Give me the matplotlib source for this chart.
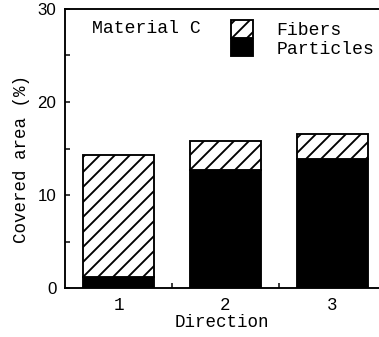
import matplotlib
matplotlib.use("Agg")
import matplotlib.pyplot as plt
from matplotlib.ticker import MultipleLocator, FixedLocator

plt.rcParams['font.family'] = ['Liberation Mono', 'DejaVu Sans Mono']
plt.rcParams['hatch.linewidth'] = 1.5

# 数据
directions = ["1", "2", "3"]
particles = [1.2, 12.7, 13.9]
fibers_total = [14.3, 15.8, 16.6]
fibers = [t - p for t, p in zip(fibers_total, particles)]

fig = plt.figure(figsize=(379 / 90, 337 / 90), dpi=90)
ax = fig.add_axes([65 / 379, 1 - 288 / 337, 1 - 65 / 379, (288 - 9) / 337])

x = range(1, len(directions) + 1)
ax.bar(x, particles, width=0.67, color="black", edgecolor="black", linewidth=1.5, label="Particles")
ax.bar(x, fibers, width=0.67, bottom=particles, color="white", edgecolor="black",
       hatch="//", linewidth=1.5, label="Fibers")

ax.set_xlim(0.5, 3.435)
ax.set_ylim(0, 30)
ax.set_xticks(list(x))
ax.set_xticklabels(directions, fontsize=14)
ax.xaxis.set_minor_locator(FixedLocator([1.5, 2.5]))
ax.yaxis.set_major_locator(MultipleLocator(10))
ax.yaxis.set_minor_locator(MultipleLocator(5))
ax.tick_params(axis="x", which="major", length=0, pad=7)
ax.tick_params(axis="x", which="minor", direction="in", length=4, width=1.2)
ax.tick_params(axis="y", which="both", direction="in", length=4, width=1.2, pad=7)
for lbl in ax.get_yticklabels():
    lbl.set_family("Liberation Sans")
    lbl.set_fontsize(13.5)

for s in ["left", "bottom", "top"]:
    ax.spines[s].set_linewidth(1.5)
ax.spines["right"].set_visible(False)

ax.set_xlabel("Direction", fontsize=14, labelpad=0)
ax.set_ylabel("Covered area (%)", fontsize=14)
ax.yaxis.set_label_coords(-0.112, 0.462)

ax.text(0.085, 0.96, "Material C", transform=ax.transAxes, fontsize=14.5, va="top", ha="left")

handles, labels = ax.get_legend_handles_labels()
ax.legend(handles[::-1], labels[::-1], loc="upper left", bbox_to_anchor=(0.53, 0.96),
          frameon=False, fontsize=14.5, handlelength=1.2, handleheight=1.1,
          labelspacing=0.0, handletextpad=1.3, borderpad=0, borderaxespad=0)

fig.savefig("out.png", dpi=90)
